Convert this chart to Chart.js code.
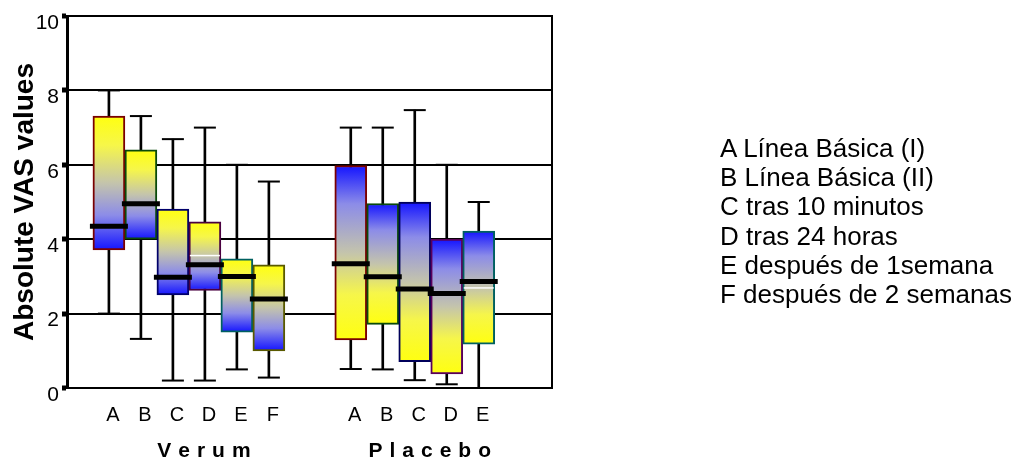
<!DOCTYPE html>
<html>
<head>
<meta charset="utf-8">
<script src="https://cdn.jsdelivr.net/npm/chart.js@4.4.1/dist/chart.umd.min.js"></script>
<style>
  html, body { margin: 0; padding: 0; background: #fff; }
  .wrap { position: relative; width: 1020px; height: 461px; }
  .legend {
    position: absolute; left: 720px; top: 134px;
    font: 26px "Liberation Sans", Arial, sans-serif;
    line-height: 29.2px; color: #000; white-space: nowrap;
  }
</style>
</head>
<body>
<div class="wrap">
  <canvas class="vas-chart" width="1020" height="461"></canvas>
  <div class="legend"></div>
</div>
<script>
const verumLabels = ["A", "B", "C", "D", "E", "F"];
const placeboLabels = ["A", "B", "C", "D", "E"];
const groupNames = ["Verum", "Placebo"];
const yTicks = [0, 2, 4, 6, 8, 10];
const legendLines = [
  "A Línea Básica (I)",
  "B Línea Básica (II)",
  "C tras 10 minutos",
  "D tras 24 horas",
  "E después de 1semana",
  "F después de 2 semanas",
];

// whisker low, box bottom, median, box top, whisker high
const verumLow = [2.0, 1.32, 0.2, 0.2, 0.5, 0.28];
const verumQ1 = [3.71, 4.0, 2.5, 2.62, 1.5, 1.0];
const verumMedian = [4.35, 4.95, 2.98, 3.31, 3.0, 2.39];
const verumQ3 = [7.31, 6.4, 4.81, 4.47, 3.47, 3.31];
const verumHigh = [8.0, 7.31, 6.69, 7.0, 6.0, 5.55];
const verumMean = [null, null, null, 3.56, null, null];

const placeboLow = [0.51, 0.5, 0.21, 0.1, 0.0];
const placeboQ1 = [1.29, 1.71, 0.71, 0.38, 1.18];
const placeboMedian = [3.34, 2.99, 2.66, 2.54, 2.86];
const placeboQ3 = [5.98, 4.96, 5.0, 4.0, 4.22];
const placeboHigh = [7.0, 7.0, 7.47, 6.0, 5.0];
const placeboMean = [null, null, null, null, 2.69];

const verumBorders = ["#7a0000", "#0a4a0a", "#00006a", "#4a0040", "#006060", "#5a5a00"];
const placeboBorders = ["#7a0000", "#0a4a0a", "#00005a", "#5a005a", "#006060"];

const FONT = '"Liberation Sans", Arial, sans-serif';
const X_MAX = 15.16;
const verumX = verumLabels.map((_, i) => 1.31 + i);
const placeboX = placeboLabels.map((_, i) => 8.87 + i);
const groupX = [verumX[0] + (verumX.length - 1) / 2, placeboX[0] + (placeboX.length - 1) / 2];

const allX = [...verumX, ...placeboX];
const allLetters = [...verumLabels, ...placeboLabels];
const allLow = [...verumLow, ...placeboLow];
const allHigh = [...verumHigh, ...placeboHigh];
const allMedian = [...verumMedian, ...placeboMedian];
const allMean = [...verumMean, ...placeboMean];

document.querySelector(".legend").innerHTML = legendLines.map((t) => `<div>${t}</div>`).join("");

function boxFill(yellowOnTop) {
  return (context) => {
    const chart = context.chart;
    const raw = context.raw;
    if (!chart.chartArea || !raw) return "#c0c0b0";
    const yScale = chart.scales.y;
    const top = yScale.getPixelForValue(raw.y[1]);
    const bottom = yScale.getPixelForValue(raw.y[0]);
    const g = chart.ctx.createLinearGradient(0, top, 0, bottom);
    const stops = ["#ffff10", "#f6f64a", "#c4c4ac", "#8c8ce8", "#1414ff"];
    const cols = yellowOnTop ? stops : stops.slice().reverse();
    [0, 0.22, 0.5, 0.74, 1].forEach((p, i) => g.addColorStop(p, cols[i]));
    return g;
  };
}

const whiskers = {
  type: "bar",
  data: allX.map((x, i) => ({ x, y: [allLow[i], allHigh[i]] })),
  backgroundColor: "#000",
  barThickness: 2,
  grouped: false,
  order: 5,
};

const verumBoxes = {
  type: "bar",
  data: verumX.map((x, i) => ({ x, y: [verumQ1[i], verumQ3[i]] })),
  backgroundColor: boxFill(true),
  borderColor: verumBorders,
  borderWidth: 2,
  borderSkipped: false,
  barThickness: 32,
  grouped: false,
  order: 4,
};

const placeboBoxes = {
  type: "bar",
  data: placeboX.map((x, i) => ({ x, y: [placeboQ1[i], placeboQ3[i]] })),
  backgroundColor: boxFill(false),
  borderColor: placeboBorders,
  borderWidth: 2,
  borderSkipped: false,
  barThickness: 32,
  grouped: false,
  order: 4,
};

const caps = {
  type: "scatter",
  data: [
    ...allX.map((x, i) => ({ x, y: allLow[i] })),
    ...allX.map((x, i) => ({ x, y: allHigh[i] })),
  ],
  pointStyle: "line",
  pointRadius: 11,
  pointHoverRadius: 11,
  pointBorderWidth: 2,
  pointBorderColor: "#000",
  order: 3,
};

const means = {
  type: "scatter",
  data: allX.map((x, i) => ({ x, y: allMean[i] })).filter((p) => p.y !== null),
  pointStyle: "line",
  pointRadius: 15,
  pointHoverRadius: 15,
  pointBorderWidth: 1.5,
  pointBorderColor: "#fff",
  order: 2,
};

const medians = {
  type: "scatter",
  data: allX.map((x, i) => ({ x, y: allMedian[i] })),
  pointStyle: "line",
  pointRadius: 19,
  pointHoverRadius: 19,
  pointBorderWidth: 5,
  pointBorderColor: "#000",
  order: 1,
};

const spaced = (s) => s.split("").join("\u2004");

const config = {
  type: "bar",
  data: { datasets: [whiskers, verumBoxes, placeboBoxes, caps, means, medians] },
  options: {
    responsive: false,
    animation: false,
    layout: { autoPadding: false, padding: { top: 16, right: 468, bottom: 0, left: 0 } },
    plugins: { legend: { display: false }, tooltip: { enabled: false } },
    scales: {
      x: {
        type: "linear",
        position: "bottom",
        weight: 0,
        min: 0,
        max: X_MAX,
        offset: false,
        afterBuildTicks: (s) => { s.ticks = allX.map((v) => ({ value: v })); },
        afterFit: (s) => { s.height = 36; s.paddingLeft = 0; s.paddingRight = 0; },
        ticks: {
          callback: (v, i) => allLetters[i],
          autoSkip: false,
          maxRotation: 0,
          padding: 15,
          labelOffset: 4,
          color: "#000",
          font: { family: FONT, size: 20 },
        },
        grid: { display: true, color: "rgba(0,0,0,0)", drawTicks: false, offset: false },
        border: { display: true, color: "#000", width: 2 },
      },
      x2: {
        type: "linear",
        position: "bottom",
        weight: 1,
        min: 0,
        max: X_MAX,
        offset: false,
        afterBuildTicks: (s) => { s.ticks = groupX.map((v) => ({ value: v })); },
        afterFit: (s) => { s.height = 37; s.paddingLeft = 0; s.paddingRight = 0; },
        ticks: {
          callback: (v, i) => spaced(groupNames[i]),
          autoSkip: false,
          maxRotation: 0,
          padding: 15,
          labelOffset: 15,
          color: "#000",
          font: { family: FONT, size: 21, weight: "bold" },
        },
        grid: { display: false, drawTicks: false },
        border: { display: false },
      },
      y: {
        type: "linear",
        position: "left",
        min: 0,
        max: 10,
        afterBuildTicks: (s) => { s.ticks = yTicks.map((v) => ({ value: v })); },
        afterFit: (s) => { s.width = 67; s.paddingTop = 0; s.paddingBottom = 0; },
        ticks: {
          padding: 3,
          labelOffset: 7,
          color: "#000",
          font: { family: FONT, size: 21 },
        },
        grid: { color: "#000", lineWidth: 2, tickLength: 5, tickWidth: 5, tickColor: "#000" },
        border: { color: "#000", width: 3 },
        title: {
          display: true,
          text: "Absolute VAS values",
          color: "#000",
          padding: { top: 8, bottom: 0 },
          font: { family: FONT, size: 28, weight: "bold" },
        },
      },
      yr: {
        type: "linear",
        position: "right",
        min: 0,
        max: 10,
        afterFit: (s) => { s.width = 0; s.paddingTop = 0; s.paddingBottom = 0; },
        ticks: { display: false },
        grid: { display: false, drawTicks: false },
        border: { display: true, color: "#000", width: 2 },
      },
    },
  },
};

new Chart(document.querySelector(".vas-chart").getContext("2d"), config);
</script>
</body>
</html>
